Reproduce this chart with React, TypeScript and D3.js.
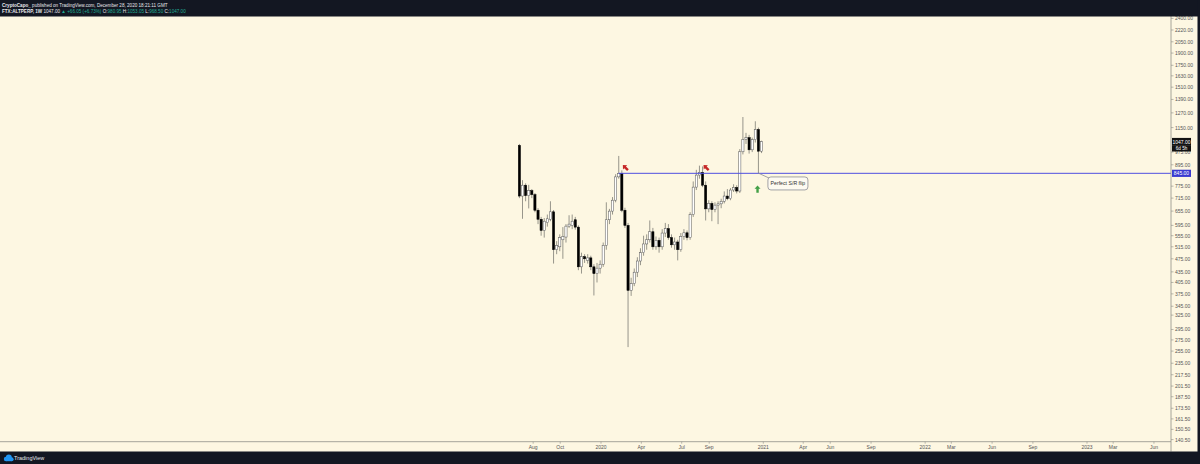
import React from "react";
import * as d3 from "d3";

// ---- Data (weekly candles FTX:ALTPERP) ----
const START_WEEK = "2019-07-01";
const opens = [1020, 725, 780, 727, 752, 732, 659, 620, 575, 606, 620, 652, 505, 515, 540, 550, 592, 595, 618, 588, 450, 482, 470, 478, 450, 430, 446, 458, 520, 618, 655, 705, 825, 845, 659, 595, 384, 402, 434, 468, 495, 525, 540, 570, 515, 538, 515, 565, 582, 548, 522, 532, 505, 552, 566, 548, 640, 770, 835, 850, 780, 665, 690, 662, 682, 688, 700, 725, 712, 755, 768, 750, 977, 1062, 1075, 990, 1060, 1135, 980.95];
const highs = [1030, 807, 790, 782, 760, 740, 668, 630, 625, 640, 700, 660, 535, 560, 588, 600, 637, 640, 630, 595, 495, 490, 490, 485, 458, 462, 470, 530, 695, 665, 720, 840, 950, 862, 670, 605, 418, 445, 480, 510, 555, 560, 615, 585, 552, 548, 580, 605, 600, 560, 548, 540, 565, 580, 575, 650, 800, 865, 890, 885, 800, 705, 700, 695, 700, 712, 748, 760, 765, 785, 780, 995, 1235, 1110, 1095, 1075, 1200, 1150, 1053.05];
const lows = [715, 622, 700, 667, 715, 650, 600, 555, 548, 590, 612, 460, 490, 500, 475, 530, 585, 580, 578, 440, 430, 462, 460, 440, 371, 405, 430, 450, 505, 600, 640, 695, 815, 650, 585, 262, 370, 395, 420, 455, 485, 505, 530, 505, 505, 495, 505, 550, 540, 512, 505, 470, 498, 540, 538, 540, 630, 755, 815, 770, 615, 650, 612, 650, 600, 668, 690, 705, 705, 745, 738, 740, 960, 1030, 965, 975, 1040, 846, 968.5];
const closes = [725, 780, 727, 752, 732, 659, 620, 575, 612, 622, 652, 505, 520, 548, 552, 592, 600, 612, 588, 450, 482, 475, 478, 450, 430, 446, 458, 520, 618, 655, 705, 825, 845, 659, 595, 384, 402, 434, 468, 495, 525, 540, 570, 515, 538, 515, 565, 582, 548, 522, 532, 505, 552, 566, 548, 640, 770, 835, 850, 780, 665, 690, 662, 682, 688, 700, 725, 712, 755, 768, 750, 977, 1062, 1075, 990, 1060, 1135, 981, 1047];

const yTickValues = [2400, 2220, 2050, 1900, 1750, 1630, 1510, 1390, 1270, 1150, 975, 895, 775, 715, 655, 595, 555, 515, 475, 435, 405, 375, 345, 325, 295, 275, 255, 235, 217.5, 201.5, 187.5, 173.5, 161.5, 150.5, 140.5];
const xTickDates = ["2019-08-01", "2019-10-01", "2020-01-01", "2020-04-01", "2020-07-01", "2020-09-01", "2021-01-01", "2021-04-01", "2021-06-01", "2021-09-01", "2022-01-01", "2022-03-01", "2022-06-01", "2022-09-01", "2023-01-01", "2023-03-01", "2023-06-01"];
const xTickLabels = ["Aug", "Oct", "2020", "Apr", "Jul", "Sep", "2021", "Apr", "Jun", "Sep", "2022", "Mar", "Jun", "Sep", "2023", "Mar", "Jun"];

const levelPrice = 845;
const levelStart = "2020-02-10";
const lastPrice = 1047;
const countdown = "6d 5h";
const redArrows = [
  { date: "2020-02-25", price: 878 },
  { date: "2020-08-25", price: 878 },
];
const greenArrow = { date: "2020-12-19", price: 760 };
const calloutText = "Perfect S/R flip";
const calloutAnchor = { date: "2020-12-21", price: 846 };

const headerLine1 = { author: "CryptoCapo_", rest: " published on TradingView.com, December 28, 2020 18:21:11 GMT" };
const headerLine2 = { symbol: "FTX:ALTPERP, 1W", last: "1047.00", change: "▲ +66.05 (+6.73%)", o: "980.95", h: "1053.05", l: "968.50", c: "1047.00" };

export default function App() {
  const W = 1200;
  const H = 464;
  const BG = "#fdf7e2";
  const DARK = "#131722";
  const AXIS_X = 1171;
  const AXIS_Y = 441.7;
  const TOP = 16.5;
  const BOTTOM_BAND = 451.5;
  const font = "'Liberation Sans', Arial, sans-serif";

  const parse = d3.utcParse("%Y-%m-%d");
  const start = parse(START_WEEK) as Date;
  const dates = d3.utcMonday.range(start, d3.utcDay.offset(start, 7 * opens.length));

  const x = d3.scaleUtc().domain([parse("2020-01-01") as Date, parse("2023-01-01") as Date]).range([601, 1087]);
  const y = d3.scaleLog().domain([138.5, 2423]).range([AXIS_Y, 17]);

  const bw = 2.2;
  const fmt = d3.format(".2f");

  const levelY = y(levelPrice);
  const lastY = y(lastPrice);

  const ca = { x: x(parse(calloutAnchor.date) as Date), y: y(calloutAnchor.price) };
  const box = { x: ca.x + 9.5, y: ca.y + 3.8, w: 40, h: 13 };

  const arrowPath = "M0,-3.6 L3,-0.4 L1.2,-0.4 L1.2,3.6 L-1.2,3.6 L-1.2,-0.4 L-3,-0.4 Z";

  const teal = "#22ab94";

  return (
    <svg width={W} height={H} style={{ position: "fixed", left: 0, top: 0, display: "block" }} fontFamily={font}>
      <rect x={0} y={0} width={W} height={H} fill={BG} />

      {/* candles */}
      <g>
        {dates.map((d, i) => {
          const cx = x(d);
          const o = opens[i], c = closes[i], hi = highs[i], lo = lows[i];
          const up = c >= o;
          const yTop = y(Math.max(o, c));
          const yBot = y(Math.min(o, c));
          const h = Math.max(1, yBot - yTop);
          return (
            <g key={i}>
              <line x1={cx} x2={cx} y1={y(hi)} y2={y(lo)} stroke="#6b6b66" strokeWidth={0.7} />
              <rect x={cx - bw / 2} y={yTop} width={bw} height={h}
                fill={up ? "#ffffff" : "#000000"} stroke={up ? "#555555" : "#000000"} strokeWidth={0.5} />
            </g>
          );
        })}
      </g>

      {/* horizontal S/R level */}
      <line x1={x(parse(levelStart) as Date)} x2={AXIS_X} y1={levelY} y2={levelY} stroke="#4f4fe0" strokeWidth={1} />

      {/* red arrows */}
      {redArrows.map((a, i) => (
        <path key={i} d={arrowPath} fill="#c62828"
          transform={`translate(${x(parse(a.date) as Date)},${y(a.price)}) rotate(-45)`} />
      ))}
      {/* green arrow */}
      <path d={arrowPath} fill="#43a047"
        transform={`translate(${x(parse(greenArrow.date) as Date)},${y(greenArrow.price)})`} />

      {/* callout */}
      <line x1={ca.x} y1={ca.y} x2={box.x + 2} y2={box.y + 1.5} stroke="#8a8d96" strokeWidth={0.8} />
      <rect x={box.x} y={box.y} width={box.w} height={box.h} rx={3} ry={3} fill="#fdfaf0" stroke="#8a8d96" strokeWidth={0.8} />
      <text x={box.x + box.w / 2} y={box.y + box.h / 2} fontSize={5.2} fill="#333" textAnchor="middle" dominantBaseline="central">{calloutText}</text>

      {/* bottom time axis */}
      <line x1={0} x2={AXIS_X} y1={AXIS_Y} y2={AXIS_Y} stroke="#8f8f88" strokeWidth={0.8} />
      {xTickDates.map((ds, i) => {
        const tx = x(parse(ds) as Date);
        return (
          <g key={ds}>
            <line x1={tx} x2={tx} y1={AXIS_Y} y2={AXIS_Y + 2} stroke="#8f8f88" strokeWidth={0.6} />
            <text x={tx} y={AXIS_Y + 5.5} fontSize={5} fill="#555" textAnchor="middle" dominantBaseline="central">{xTickLabels[i]}</text>
          </g>
        );
      })}

      {/* right price axis */}
      <line x1={AXIS_X} x2={AXIS_X} y1={0} y2={BOTTOM_BAND} stroke="#8f8f88" strokeWidth={0.8} />
      {yTickValues.map((v) => (
        <g key={v}>
          <line x1={AXIS_X} x2={AXIS_X + 2.5} y1={y(v)} y2={y(v)} stroke="#8f8f88" strokeWidth={0.6} />
          <text x={AXIS_X + 4} y={y(v)} fontSize={5} fill="#555" dominantBaseline="central">{fmt(v)}</text>
        </g>
      ))}

      {/* last price + countdown labels */}
      <rect x={AXIS_X + 1} y={lastY - 3.6} width={19} height={7.2} fill="#131313" />
      <text x={AXIS_X + 10.5} y={lastY} fontSize={5} fill="#fff" textAnchor="middle" dominantBaseline="central">{fmt(lastPrice)}</text>
      <rect x={AXIS_X + 1} y={lastY + 3.6} width={19} height={6.4} fill="#131313" />
      <text x={AXIS_X + 10.5} y={lastY + 6.8} fontSize={4.6} fill="#fff" textAnchor="middle" dominantBaseline="central">{countdown}</text>

      {/* level label */}
      <rect x={AXIS_X + 1} y={levelY - 3.6} width={19} height={7.2} fill="#3a3ad0" />
      <text x={AXIS_X + 10.5} y={levelY} fontSize={5} fill="#fff" textAnchor="middle" dominantBaseline="central">{fmt(levelPrice)}</text>

      {/* top header */}
      <rect x={0} y={0} width={W} height={TOP} fill={DARK} />
      <text x={2} y={5} fontSize={4.6} fill="#e8e8ec" dominantBaseline="central">
        <tspan fontWeight="bold">{headerLine1.author}</tspan>
        <tspan>{headerLine1.rest}</tspan>
      </text>
      <text x={2} y={11} fontSize={4.6} fill="#e8e8ec" dominantBaseline="central">
        <tspan fontWeight="bold">{headerLine2.symbol}</tspan>
        <tspan> {headerLine2.last} </tspan>
        <tspan fill={teal}>{headerLine2.change}</tspan>
        <tspan> O:</tspan><tspan fill={teal}>{headerLine2.o}</tspan>
        <tspan> H:</tspan><tspan fill={teal}>{headerLine2.h}</tspan>
        <tspan> L:</tspan><tspan fill={teal}>{headerLine2.l}</tspan>
        <tspan> C:</tspan><tspan fill={teal}>{headerLine2.c}</tspan>
      </text>

      {/* right border */}
      <rect x={1197.5} y={0} width={2.5} height={H} fill={DARK} />

      {/* bottom band */}
      <rect x={0} y={BOTTOM_BAND} width={W} height={H - BOTTOM_BAND} fill={DARK} />
      <g transform={`translate(3,${BOTTOM_BAND + 2.5})`}>
        <circle cx={3} cy={5} r={2.2} fill="#2196f3" />
        <circle cx={5.8} cy={3.6} r={3} fill="#2196f3" />
        <circle cx={8.6} cy={5.2} r={2} fill="#2196f3" />
        <rect x={3} y={5} width={5.6} height={2.2} fill="#2196f3" />
      </g>
      <text x={14} y={BOTTOM_BAND + 6.5} fontSize={5.5} fill="#e8e8ec" dominantBaseline="central">TradingView</text>
    </svg>
  );
}
